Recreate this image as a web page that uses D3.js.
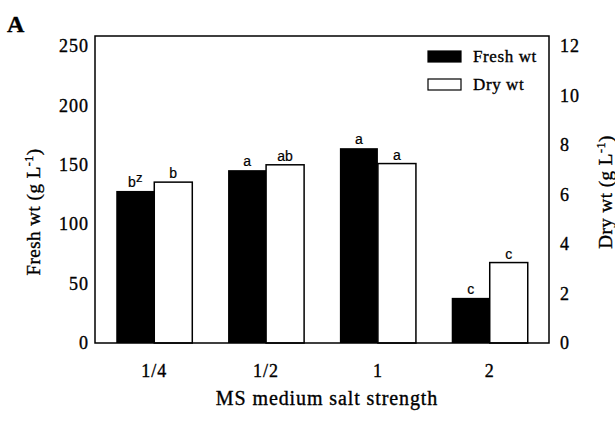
<!DOCTYPE html>
<html>
<head>
<meta charset="utf-8">
<script src="https://cdn.jsdelivr.net/npm/d3@7"></script>
<style>
	body { margin: 0; background: #fff; }
	text { font-family: "Liberation Serif", "Times New Roman", serif; fill: #000; stroke: #000; stroke-width: 0.35px; }
</style>
</head>
<body>
<div id="chart"></div>
<script>
const categories = ["1/4", "1/2", "1", "2"];
const freshWt = [128, 145.5, 164, 38];      // g L-1, left axis
const dryWt = [6.5, 7.2, 7.25, 3.25];       // g L-1, right axis
const freshLetters = ["b", "a", "a", "c"];
const dryLetters = ["b", "ab", "a", "c"];
const leftTicks = [0, 50, 100, 150, 200, 250];
const rightTicks = [0, 2, 4, 6, 8, 10, 12];

const chartW = 615, chartH = 421;
const plotLeft = 95, plotRight = 549, plotTop = 36, plotBottom = 343;

const svg = d3.select("#chart")
	.append("svg")
	.attr("width", chartW)
	.attr("height", chartH);

let x = d3.scaleBand().domain(categories).range([plotLeft, plotRight])
	.paddingInner(0.32).paddingOuter(0.19);
let sub = d3.scaleBand().domain(["fresh", "dry"]).range([0, x.bandwidth()]);
let yL = d3.scaleLinear().domain([0, 250]).range([plotBottom, 46]);
let yR = d3.scaleLinear().domain([0, 12]).range([plotBottom, 46]);

// bars
let groups = svg.selectAll("g.grp")
	.data(categories)
	.enter().append("g")
	.attr("class", "grp")
	.attr("transform", d => "translate(" + x(d) + ",0)");

groups.append("rect")
	.attr("x", sub("fresh"))
	.attr("y", (d, i) => yL(freshWt[i]))
	.attr("width", sub.bandwidth())
	.attr("height", (d, i) => plotBottom - yL(freshWt[i]))
	.style("fill", "#000");

groups.append("rect")
	.attr("x", sub("dry"))
	.attr("y", (d, i) => yR(dryWt[i]))
	.attr("width", sub.bandwidth())
	.attr("height", (d, i) => plotBottom - yR(dryWt[i]))
	.style("fill", "#fff")
	.style("stroke", "#000")
	.style("stroke-width", 1.5);

// letters above bars
let fl = groups.append("text")
	.attr("x", sub("fresh") + sub.bandwidth() / 2)
	.attr("y", (d, i) => yL(freshWt[i]) - 4)
	.attr("text-anchor", "middle")
	.style("font-family", "'Liberation Sans', Arial, sans-serif")
	.style("font-size", "14px")
	.style("stroke-width", "0.2px")
	.text((d, i) => freshLetters[i]);
fl.filter((d, i) => i === 0)
	.append("tspan")
	.attr("dy", -5)
	.style("font-size", "13px")
	.text("z");

groups.append("text")
	.attr("x", sub("dry") + sub.bandwidth() / 2)
	.attr("y", (d, i) => yR(dryWt[i]) - 4)
	.attr("text-anchor", "middle")
	.style("font-family", "'Liberation Sans', Arial, sans-serif")
	.style("font-size", "14px")
	.style("stroke-width", "0.2px")
	.text((d, i) => dryLetters[i]);

// frame
svg.append("path")
	.attr("d", "M" + plotLeft + "," + plotBottom + "V" + plotTop + "H" + plotRight + "V" + plotBottom + "Z")
	.style("fill", "none")
	.style("stroke", "#000")
	.style("stroke-width", 1.5);

// axes
let leftAxis = svg.append("g")
	.attr("transform", "translate(" + plotLeft + ",0)")
	.call(d3.axisLeft(yL).tickValues(leftTicks).tickSize(0).tickPadding(6));
let rightAxis = svg.append("g")
	.attr("transform", "translate(" + plotRight + ",0)")
	.call(d3.axisRight(yR).tickValues(rightTicks).tickSize(0).tickPadding(11));
let bottomAxis = svg.append("g")
	.attr("transform", "translate(0," + plotBottom + ")")
	.call(d3.axisBottom(x).tickSize(0).tickPadding(21));

[leftAxis, rightAxis, bottomAxis].forEach(a => {
	a.select(".domain").remove();
	a.selectAll("text")
		.style("font-family", "'Liberation Serif', serif")
		.style("font-size", "18px")
		.style("letter-spacing", "1px");
});

// axis titles
function rotatedTitle(tx, ty, label) {
	let t = svg.append("text")
		.attr("transform", "translate(" + tx + "," + ty + ") rotate(-90)")
		.attr("text-anchor", "middle")
		.style("font-size", "19px")
		.style("letter-spacing", "0.5px");
	t.append("tspan").text(label + " (g L");
	t.append("tspan").attr("dy", -7).style("font-size", "12px").text("-1");
	t.append("tspan").attr("dy", 7).text(")");
}
rotatedTitle(40, 212, "Fresh wt");
rotatedTitle(612, 192, "Dry wt");

svg.append("text")
	.attr("x", 327)
	.attr("y", 405)
	.attr("text-anchor", "middle")
	.style("font-size", "20px")
	.style("letter-spacing", "0.9px")
	.text("MS medium salt strength");

svg.append("text")
	.attr("x", 7)
	.attr("y", 32)
	.style("font-size", "24px")
	.style("font-weight", "bold")
	.text("A");

// legend
const legendItems = [{name: "Fresh wt", fill: "#000"}, {name: "Dry wt", fill: "#fff"}];
let legend = svg.selectAll("g.legend")
	.data(legendItems)
	.enter().append("g")
	.attr("class", "legend")
	.attr("transform", (d, i) => "translate(428," + (51 + i * 28) + ")");
legend.append("rect")
	.attr("width", 33)
	.attr("height", 11)
	.style("fill", d => d.fill)
	.style("stroke", "#000")
	.style("stroke-width", 1.2);
legend.append("text")
	.attr("x", 45)
	.attr("y", 11)
	.style("font-size", "17px")
	.style("letter-spacing", "0.6px")
	.text(d => d.name);
</script>
</body>
</html>
